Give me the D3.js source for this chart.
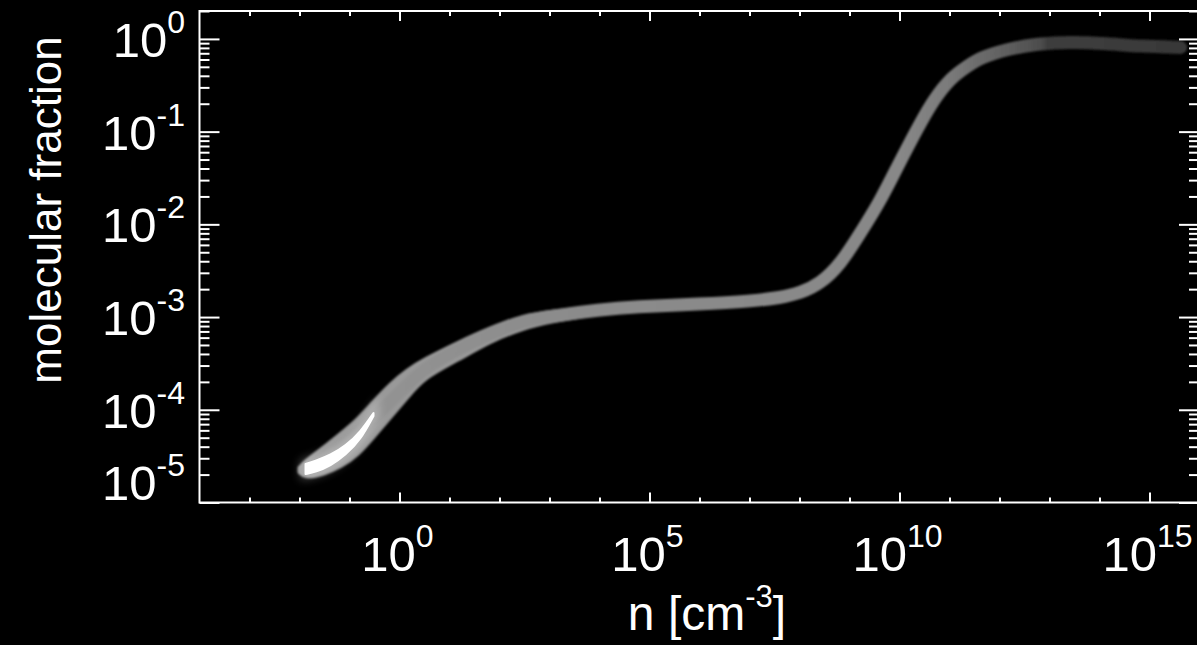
<!DOCTYPE html>
<html>
<head>
<meta charset="utf-8">
<script src="https://cdn.jsdelivr.net/npm/d3@7"></script>
<style>
  html, body { margin: 0; padding: 0; background: #000; }
  svg { display: block; }
  text { font-family: "Liberation Sans", Arial, Helvetica, sans-serif; fill: #fff; }
</style>
</head>
<body>
<script>
var width = 1197,
    height = 645;

// density n [cm^-3] along the centre of the sampled band, and molecular fraction there
var nCenter = [0.0138, 0.030, 0.066, 0.145, 0.30, 0.66, 1.45, 3.0, 14.5, 66, 300, 1050,
               1.05e4, 4.8e4, 1.05e6, 1.05e7, 4.2e7, 1.05e8, 2.6e8, 6.6e8, 1.66e9, 4.2e9,
               9.1e9, 1.45e10, 2.6e10, 4.8e10, 1.05e11, 2.3e11, 4.2e11, 1.45e12, 5.8e12,
               2.6e13, 1.45e14, 6.6e14, 4.2e15];
var fCenter = [2.24e-5, 3.1e-5, 4.1e-5, 5.6e-5, 8.1e-5, 1.23e-4, 1.86e-4, 2.75e-4, 4.5e-4,
               6.6e-4, 9.1e-4, 1.02e-3, 1.20e-3, 1.29e-3, 1.38e-3, 1.48e-3, 1.62e-3, 1.82e-3,
               2.29e-3, 3.7e-3, 8.1e-3, 0.0182, 0.042, 0.068, 0.123, 0.22, 0.38, 0.51, 0.63,
               0.78, 0.89, 0.93, 0.89, 0.83, 0.81];

// wider scatter of the low density end (upper / lower edge of the cloud)
var envN    = [0.010, 0.0132, 0.030, 0.066, 0.145, 0.30, 0.66, 1.45, 3.0, 14.5, 66, 300, 1050, 1.05e4];
var envHigh = [2.36e-5, 2.81e-5, 3.87e-5, 5.48e-5, 7.76e-5, 1.21e-4, 1.90e-4, 2.69e-4,
               3.44e-4, 5.26e-4, 7.62e-4, 1.03e-3, 1.14e-3, 1.30e-3];
var envLow  = [2.13e-5, 1.84e-5, 2.03e-5, 2.42e-5, 3.25e-5, 5.09e-5, 8.36e-5, 1.37e-4,
               2.20e-4, 3.44e-4, 5.52e-4, 7.62e-4, 9.0e-4, 1.10e-3];

// bright streak (densest part of the cloud)
var streakN    = [0.0132, 0.0209, 0.0417, 0.0832, 0.166, 0.302];
var streakHigh = [2.60e-5, 2.81e-5, 3.25e-5, 4.07e-5, 5.77e-5, 9.23e-5];
var streakLow  = [2.03e-5, 2.13e-5, 2.48e-5, 3.25e-5, 4.72e-5, 8.57e-5];

// tick labels (exponents)
var xLabelExp = [0, 5, 10, 15];
var yLabelExp = [0, -1, -2, -3, -4, -5];

var svg = d3.select("body").append("svg")
    .attr("width", width)
    .attr("height", height);

svg.append("rect").attr("width", width).attr("height", height).attr("fill", "#000");

var x = d3.scaleLog().domain([1e-4, 1e16]).range([199.5, 1199.5]);
var y = d3.scaleLog().domain([1e-5, 2]).range([502.5, 11]);

var defs = svg.append("defs");
defs.append("filter").attr("id", "soft")
    .append("feGaussianBlur").attr("stdDeviation", 1.2);
defs.append("filter").attr("id", "glow").attr("x", "-50%").attr("y", "-50%").attr("width", "200%").attr("height", "200%")
    .append("feGaussianBlur").attr("stdDeviation", 5);

// band colour fades along n
var grad = defs.append("linearGradient").attr("id", "bandGrad")
    .attr("gradientUnits", "userSpaceOnUse")
    .attr("x1", x(1e-4)).attr("x2", x(1e16)).attr("y1", 0).attr("y2", 0);
[[1e-4, "#9a9a9a"], [1e3, "#8c8c8c"], [1e10, "#888"], [1e11, "#7a7a7a"],
 [1.5e12, "#5e5e5e"], [7e12, "#4c4c4c"], [9e12, "#3e3e3e"], [1e16, "#383838"]]
  .forEach(function(s){
    grad.append("stop")
      .attr("offset", (x(s[0]) - x(1e-4)) / (x(1e16) - x(1e-4)))
      .attr("stop-color", s[1]);
  });

var center = nCenter.map(function(n, i){ return {n: n, f: fCenter[i]}; });
var env = envN.map(function(n, i){ return {n: n, lo: envLow[i], hi: envHigh[i]}; });
var streak = streakN.map(function(n, i){ return {n: n, lo: streakLow[i], hi: streakHigh[i]}; });

var band = svg.append("g").attr("filter", "url(#soft)");

var area = d3.area().curve(d3.curveBasis)
    .x(function(d){ return x(d.n); })
    .y0(function(d){ return y(d.lo); })
    .y1(function(d){ return y(d.hi); });

band.append("path")
    .attr("d", area(env))
    .attr("fill", "#999")
    .attr("stroke", "#999")
    .attr("stroke-width", 4)
    .attr("stroke-linejoin", "round");

band.append("path")
    .attr("d", d3.line().curve(d3.curveBasis)
        .x(function(d){ return x(d.n); })
        .y(function(d){ return y(d.f); })(center))
    .attr("fill", "none")
    .attr("stroke", "url(#bandGrad)")
    .attr("stroke-width", 13)
    .attr("stroke-linecap", "round")
    .attr("stroke-linejoin", "round");

// halo and streak
svg.append("path")
    .attr("d", area(streak))
    .attr("fill", "#fff").attr("stroke", "#fff").attr("stroke-width", 10)
    .attr("opacity", 0.3)
    .attr("filter", "url(#glow)");
svg.append("path")
    .attr("d", area(streak))
    .attr("fill", "#fff").attr("stroke", "#fff").attr("stroke-width", 2)
    .attr("stroke-linejoin", "round");

// axes: ticks pointing inward
var xMajor = xLabelExp.map(function(e){ return Math.pow(10, e); });
var xMinor = d3.range(-3, 16).filter(function(e){ return e % 5 !== 0; })
    .map(function(e){ return Math.pow(10, e); });
var yMajor = yLabelExp.map(function(e){ return Math.pow(10, e); });
var yMinor = [];
d3.range(-5, 1).forEach(function(e){
  d3.range(2, 10).forEach(function(k){
    var v = k * Math.pow(10, e);
    if (v <= 2) yMinor.push(v);
  });
});

function styleAxis(g) {
  g.select(".domain").remove();
  g.selectAll("line").attr("stroke", "#fff").attr("stroke-width", 2);
  g.selectAll("text").remove();
}

var axes = [
  [d3.axisBottom(x).tickValues(xMajor).tickSize(-10), 502.5, 0],
  [d3.axisBottom(x).tickValues(xMinor).tickSize(-5), 502.5, 0],
  [d3.axisTop(x).tickValues(xMajor).tickSize(-10), 11, 0],
  [d3.axisTop(x).tickValues(xMinor).tickSize(-5), 11, 0],
  [d3.axisLeft(y).tickValues(yMajor).tickSize(-20), 0, 199.5],
  [d3.axisLeft(y).tickValues(yMinor).tickSize(-10), 0, 199.5],
  [d3.axisRight(y).tickValues(yMajor).tickSize(-20), 0, 1199],
  [d3.axisRight(y).tickValues(yMinor).tickSize(-10), 0, 1199]
];
axes.forEach(function(a){
  svg.append("g")
    .attr("transform", "translate(" + a[2] + "," + a[1] + ")")
    .call(a[0].tickFormat(""))
    .call(styleAxis);
});

svg.append("rect")
    .attr("x", 199.5).attr("y", 11)
    .attr("width", 999.5).attr("height", 491.5)
    .attr("fill", "none").attr("stroke", "#fff").attr("stroke-width", 2);

// tick labels
var xl = svg.append("g").selectAll("text")
    .data(xLabelExp).enter().append("text")
    .attr("x", function(e){ return x(Math.pow(10, e)) - 2; })
    .attr("y", 571)
    .attr("text-anchor", "middle")
    .style("font-size", "49px");
xl.append("tspan").text("10");
xl.append("tspan").attr("dy", -24).style("font-size", "32px")
    .text(function(e){ return String(e); });

var yl = svg.append("g").selectAll("text")
    .data(yLabelExp).enter().append("text")
    .attr("x", 185)
    .attr("y", function(e){ return Math.min(y(Math.pow(10, e)) + 18, 500); })
    .attr("text-anchor", "end")
    .style("font-size", "49px");
yl.append("tspan").text("10");
yl.append("tspan").attr("dy", -24).style("font-size", "32px")
    .text(function(e){ return String(e); });

// axis titles
var xt = svg.append("text")
    .attr("x", 707).attr("y", 630)
    .attr("text-anchor", "middle")
    .style("font-size", "48px");
xt.append("tspan").text("n [cm");
xt.append("tspan").attr("dy", -23).style("font-size", "31px").text("-3");
xt.append("tspan").attr("dy", 23).text("]");

svg.append("text")
    .attr("transform", "translate(61,210) rotate(-90)")
    .attr("text-anchor", "middle")
    .style("font-size", "44px")
    .text("molecular fraction");
</script>
</body>
</html>
